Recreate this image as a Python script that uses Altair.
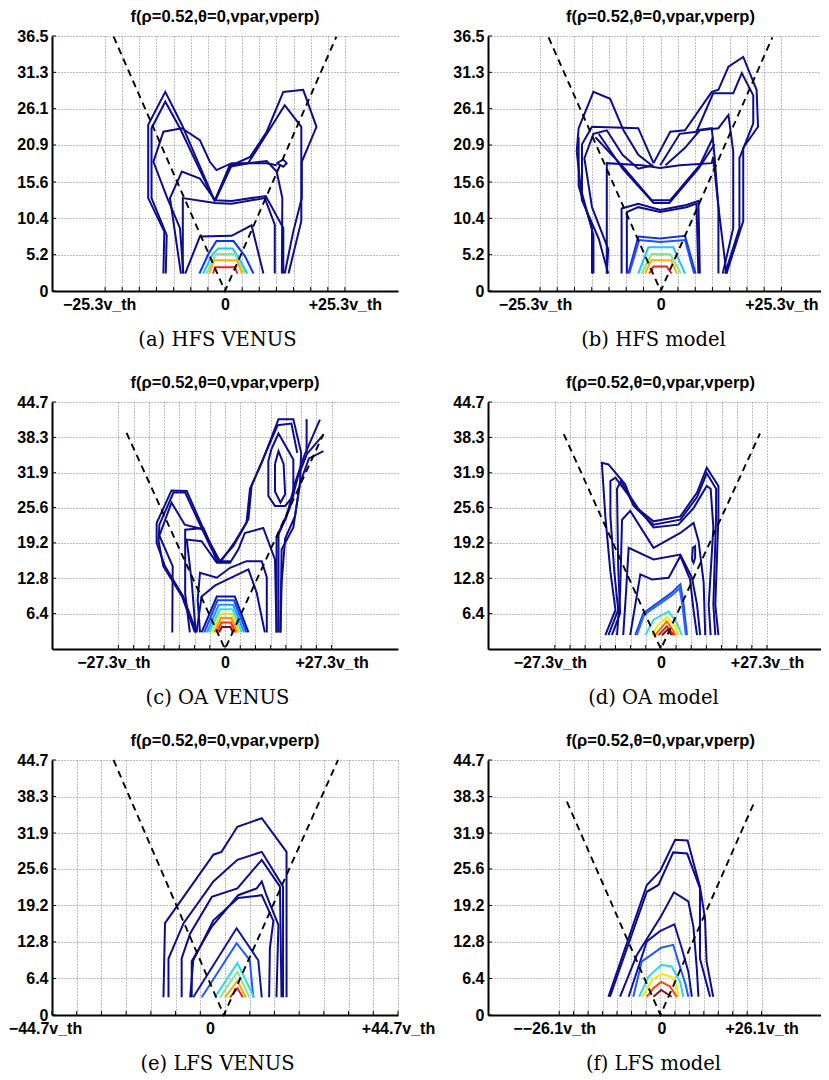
import altair as alt
import pandas as pd

TITLE = "f(ρ=0.52,θ=0,vpar,vperp)"
CAPTIONS = ["(a) HFS VENUS", "(b) HFS model", "(c) OA VENUS",
            "(d) OA model", "(e) LFS VENUS", "(f) LFS model"]
X_LABEL_VALUE = [25.3, 25.3, 27.3, 27.3, 44.7, 26.1]
X_NEG_LABEL = ["−25.3v_th", "−25.3v_th", "−27.3v_th", "−27.3v_th", "−44.7v_th", "−−26.1v_th"]
X_POS_LABEL = ["+25.3v_th", "+25.3v_th", "+27.3v_th", "+27.3v_th", "+44.7v_th", "+26.1v_th"]
X_DOMAIN = [[-36.5, 36.5], [-36.2, 33.6], [-44.3, 44.3], [-44.5, 41.2], [-44.7, 44.7], [-44.45, 41.4]]
Y_TOP = [36.5, 36.5, 44.7, 44.7, 44.7, 44.7]
Y_TICKS_HFS = [0, 5.2, 10.4, 15.6, 20.9, 26.1, 31.3, 36.5]
Y_TICKS_OA = [6.4, 12.8, 19.2, 25.6, 31.9, 38.3, 44.7]
Y_TICKS_LFS = [0, 6.4, 12.8, 19.2, 25.6, 31.9, 38.3, 44.7]

V_LEFT_TOP = [(-23.5, 36.4), (-23.5, 36.3), (-25.2, 39.1), (-25.0, 38.9), (-28.8, 44.7), (-24.1, 37.4)]
V_VERTEX = [(0, 0), (0, 0), (0, 0), (0, 0), (-0.3, 0), (0, 0)]
V_RIGHT_TOP = [(23.5, 36.4), (23.4, 36.3), (25.2, 38.9), (25.5, 39.0), (29.2, 44.7), (24.4, 37.6)]

# pixel shift of the negative label and of the "0" label on each x axis
NEG_LABEL_SHIFT = [-6, -5, -5, -5, -7, -5]
ZERO_LABEL_SHIFT = [0, 0, 0, 0, -15, 1]

NAVY = "#0c0c8e"

A_CONTOURS = [
    (NAVY, [(-13.0, 2.5), (-12.8, 8.5), (-16.2, 13.3), (-16.2, 23.8), (-12.6, 28.5), (-9.1, 23.8), (-2.1, 12.8)]),
    (NAVY, [(-12.5, 2.5), (-12.3, 8.0), (-15.5, 13.3), (-15.5, 23.3), (-12.6, 27.1), (-9.5, 23.3), (-2.3, 13.0)]),
    (NAVY, [(-8.8, 2.5), (-9.5, 9.0), (-12.3, 13.5), (-15.1, 18.5), (-13.0, 22.8), (-9.1, 23.3), (-5.3, 21.6),
            (-3.2, 18.5), (-1.8, 17.3), (1.4, 18.3), (8.8, 18.3), (10.9, 18.0)]),
    (NAVY, [(-8.9, 2.5), (-8.9, 13.3), (-2.1, 12.6), (1.4, 12.5), (8.4, 13.3), (10.5, 9.5), (10.5, 2.5)]),
    (NAVY, [(-9.3, 2.5), (-11.6, 13.3), (-9.1, 17.1), (-5.3, 16.1), (-2.1, 13.0), (1.4, 12.9), (8.6, 13.6),
            (12.3, 9.0), (12.3, 2.5)]),
    (NAVY, [(-8.4, 2.5), (-5.3, 7.8), (1.4, 7.9), (5.6, 9.4), (8.1, 2.5)]),
    (NAVY, [(12.6, 2.5), (14.4, 8.5), (16.2, 13.3), (16.2, 18.5), (19.3, 23.5), (16.5, 28.8), (12.3, 28.5),
            (8.8, 22.8), (5.3, 19.2), (1.4, 18.0), (-2.0, 13.0)]),
    (NAVY, [(13.4, 2.5), (16.1, 10.0), (16.1, 23.5), (12.6, 26.6), (9.1, 22.8), (4.9, 18.3), (1.0, 18.0),
            (-2.1, 13.0)]),
    (NAVY, [(-2.1, 13.0), (1.0, 17.8), (4.9, 18.3), (8.8, 18.6), (10.9, 17.1), (12.1, 13.3), (12.0, 2.5)]),
    (NAVY, [(10.9, 18.3), (12.3, 18.8), (13.0, 18.3), (12.3, 17.8), (10.9, 18.3)]),
    ("#0a32ff", [(-5.4, 2.5), (-3.5, 5.3), (-1.8, 7.15), (1.8, 7.15), (4.2, 5.0), (6.0, 2.5)]),
    ("#19c8f5", [(-4.6, 2.5), (-2.6, 5.3), (-1.4, 6.1), (1.6, 6.1), (3.0, 4.6), (4.7, 2.5)]),
    ("#8ae68a", [(-3.9, 2.5), (-1.9, 5.3), (2.1, 5.3), (4.2, 2.5)]),
    ("#ffb000", [(-3.3, 2.5), (-2.3, 4.4), (2.5, 4.4), (3.6, 2.5)]),
    ("#ee2020", [(-2.5, 2.5), (-2.1, 3.4), (2.1, 3.4), (2.6, 2.5)]),
]

B_CONTOURS = [
    (NAVY, [(-11.0, 2.5), (-13.0, 7.5), (-16.5, 13.0), (-17.6, 20.0), (-17.2, 23.3), (-14.1, 28.5), (-10.6, 27.5),
            (-7.8, 23.0), (-4.7, 19.5), (-1.9, 18.0)]),
    (NAVY, [(-14.1, 2.5), (-14.1, 8.0), (-16.5, 14.0), (-16.5, 21.0), (-14.4, 23.5), (-4.7, 23.3), (-1.5, 18.3)]),
    (NAVY, [(-11.3, 2.5), (-11.0, 6.0), (-14.4, 12.0), (-16.0, 19.0), (-14.1, 22.5), (-11.3, 23.0), (-8.0, 19.5),
            (-4.7, 17.5), (-1.5, 18.0)]),
    (NAVY, [(-14.4, 2.5), (-14.4, 9.0), (-17.2, 15.0), (-17.2, 22.0)]),
    (NAVY, [(-11.3, 2.5), (-11.3, 18.3), (-4.0, 18.0), (-0.1, 17.6), (4.0, 18.0), (10.7, 18.3), (11.0, 19.2),
            (12.1, 12.0), (13.8, 2.5)]),
    (NAVY, [(-8.2, 2.5), (-8.2, 11.8), (-4.7, 12.5), (-0.1, 11.6), (5.4, 12.3), (7.9, 12.9), (8.2, 2.5)]),
    (NAVY, [(-7.1, 2.5), (-7.1, 11.3), (-4.7, 12.0), (-0.1, 11.3), (5.4, 12.0), (7.5, 12.5), (7.9, 2.5)]),
    (NAVY, [(-13.7, 22.0), (-8.2, 18.0), (-1.9, 13.0), (2.0, 13.0), (8.2, 18.0), (11.0, 22.0)]),
    (NAVY, [(-13.0, 22.5), (-8.0, 17.5), (-1.5, 12.6), (1.8, 12.6), (8.0, 17.6), (11.3, 21.0)]),
    (NAVY, [(13.8, 2.5), (17.3, 10.0), (17.3, 20.5), (20.4, 23.5), (20.1, 28.8), (17.3, 33.5), (14.2, 32.1),
            (12.1, 28.8), (10.7, 28.5), (5.1, 23.0), (2.0, 22.8), (-1.5, 18.3)]),
    (NAVY, [(13.5, 2.5), (16.5, 9.0), (16.5, 19.0), (19.4, 24.0), (19.4, 28.0), (17.0, 31.2), (15.2, 28.3),
            (11.0, 28.3), (7.5, 22.8), (4.0, 22.5), (-0.1, 18.0)]),
    (NAVY, [(13.0, 2.5), (15.2, 9.0), (15.2, 20.0), (14.2, 25.2), (12.1, 23.3), (8.2, 23.0), (5.1, 20.5),
            (1.0, 18.0)]),
    (NAVY, [(12.1, 2.5), (12.1, 12.0), (11.3, 19.2), (10.7, 23.3), (7.5, 23.0)]),
    ("#1a2ee6", [(-6.8, 2.5), (-4.7, 7.8), (-0.1, 7.5), (5.1, 7.9), (7.3, 2.5)]),
    ("#1f50ff", [(-6.6, 2.5), (-4.5, 7.3), (-0.1, 7.0), (5.1, 7.3), (7.0, 2.5)]),
    ("#19c8f5", [(-4.7, 2.5), (-2.6, 6.25), (2.65, 6.25), (5.1, 2.5)]),
    ("#8ae68a", [(-4.0, 2.5), (-1.9, 5.3), (2.0, 5.3), (4.2, 2.5)]),
    ("#ffb000", [(-3.3, 2.5), (-2.0, 4.4), (2.2, 4.4), (3.4, 2.5)]),
    ("#ee2020", [(-2.4, 2.5), (-1.5, 3.5), (1.25, 3.5), (2.3, 2.5)]),
]

C_CONTOURS = [
    (NAVY, [(-7.3, 3.0), (-10.7, 9.5), (-15.4, 15.0), (-17.5, 19.2), (-17.5, 22.8), (-13.7, 28.7), (-9.8, 28.6),
            (-6.0, 22.5), (-3.8, 19.2), (-1.3, 15.9)]),
    (NAVY, [(-7.7, 3.0), (-11.0, 9.5), (-15.8, 15.0), (-17.0, 19.5), (-16.8, 22.5), (-13.2, 28.3), (-10.2, 28.3),
            (-6.4, 22.5), (-3.8, 18.6), (-1.3, 15.6)]),
    (NAVY, [(-13.5, 3.0), (-13.4, 15.0), (-16.8, 20.5), (-13.7, 26.5), (-10.3, 22.5), (-6.5, 21.8), (-5.5, 21.5)]),
    (NAVY, [(-9.0, 3.0), (-10.2, 10.0), (-10.2, 21.6), (-5.5, 21.9), (-2.1, 15.9), (1.3, 15.9)]),
    (NAVY, [(-7.5, 3.0), (-8.5, 12.0), (-9.8, 19.8), (-6.0, 19.5), (-2.1, 15.6), (1.3, 15.6), (3.4, 18.0),
            (5.1, 21.0), (9.8, 21.9), (12.8, 16.2), (13.2, 3.0)]),
    (NAVY, [(-6.4, 3.0), (-7.0, 8.9), (-6.4, 13.8), (-2.1, 12.9), (1.3, 14.7), (5.5, 15.9), (9.4, 15.9),
            (10.7, 13.0), (10.7, 3.0)]),
    (NAVY, [(-7.3, 3.0), (-6.0, 9.5), (-2.5, 11.5), (6.0, 14.4), (8.1, 10.2), (10.2, 3.0)]),
    (NAVY, [(-1.3, 15.9), (2.1, 18.6), (5.5, 22.8), (6.4, 29.0), (9.4, 33.7), (13.7, 41.6), (17.5, 41.6),
            (19.5, 35.5), (19.2, 30.0), (17.9, 24.0), (15.4, 20.0), (14.5, 12.0), (14.2, 3.0)]),
    (NAVY, [(-1.0, 15.9), (2.6, 19.5), (6.0, 23.5), (6.8, 29.5), (9.8, 34.5), (13.5, 40.5), (17.0, 40.8),
            (18.5, 35.5)]),
    (NAVY, [(13.2, 3.0), (13.2, 20.0), (15.8, 24.0), (17.9, 30.0), (20.3, 35.0), (24.3, 41.5)]),
    (NAVY, [(13.7, 3.0), (13.7, 21.0), (16.6, 25.5), (18.6, 31.0), (21.0, 35.3), (25.2, 38.8)]),
    (NAVY, [(14.2, 3.0), (14.5, 18.0), (17.5, 22.0), (19.2, 30.0), (21.5, 34.5), (25.2, 35.8)]),
    (NAVY, [(20.9, 35.5), (20.9, 41.6)]),
    (NAVY, [(11.9, 36.2), (13.7, 39.0), (17.5, 34.3), (17.5, 27.7), (15.4, 25.9), (12.8, 25.9), (11.1, 27.7),
            (11.1, 34.0), (11.9, 36.2)]),
    (NAVY, [(12.8, 33.5), (13.7, 35.8), (15.0, 33.5), (15.4, 28.0), (14.2, 26.5), (12.8, 28.5), (12.8, 33.5)]),
    ("#0a0ab4", [(-6.0, 3.0), (-2.1, 9.5), (2.5, 9.5), (6.0, 3.0)]),
    ("#0a46ff", [(-5.3, 3.0), (-1.9, 8.8), (2.3, 8.8), (5.5, 3.0)]),
    ("#1e96ff", [(-4.6, 3.0), (-1.6, 8.0), (2.1, 8.0), (4.9, 3.0)]),
    ("#30e0e0", [(-4.0, 3.0), (-1.3, 7.2), (1.9, 7.2), (4.3, 3.0)]),
    ("#f0e010", [(-3.3, 3.0), (-1.1, 6.4), (1.7, 6.4), (3.7, 3.0)]),
    ("#ff9000", [(-2.7, 3.0), (-1.0, 5.6), (1.6, 5.6), (3.1, 3.0)]),
    ("#ff3010", [(-2.1, 3.0), (-0.9, 4.8), (1.5, 4.8), (2.6, 3.0)]),
    ("#8b0a0a", [(-1.5, 3.0), (-0.8, 4.0), (1.4, 4.0), (2.0, 3.0)]),
]

D_CONTOURS = [
    (NAVY, [(-14.3, 2.5), (-11.7, 7.1), (-13.0, 14.0), (-14.3, 24.0), (-15.2, 33.7), (-13.5, 33.4), (-9.2, 29.8),
            (-7.1, 26.0), (-1.9, 23.1), (2.8, 23.7), (5.0, 24.0), (9.3, 28.3), (11.8, 32.8), (14.8, 29.5),
            (14.8, 24.0), (14.0, 8.0), (14.8, 2.5)]),
    (NAVY, [(-13.5, 2.5), (-11.0, 7.1), (-12.0, 14.0), (-13.0, 24.0), (-13.0, 30.4), (-11.7, 31.0), (-8.5, 28.0),
            (-6.6, 25.6), (-1.9, 22.5), (5.0, 23.4), (9.3, 27.5), (11.8, 31.8), (14.2, 29.0), (14.2, 24.0),
            (13.5, 8.0), (14.0, 2.5)]),
    (NAVY, [(-12.6, 2.5), (-10.5, 6.5), (-11.0, 15.0), (-11.3, 29.0), (-10.3, 30.4), (-8.0, 27.7), (-6.0, 25.6),
            (-1.9, 22.0), (4.5, 22.5), (8.4, 25.5), (11.8, 29.5), (12.8, 29.0), (13.5, 22.0), (12.3, 8.0),
            (12.8, 2.5)]),
    (NAVY, [(-11.3, 2.5), (-10.5, 10.0), (-10.0, 23.4), (-7.9, 25.0), (-1.9, 18.3), (5.0, 21.0), (8.4, 22.8),
            (9.7, 19.5), (11.0, 12.0), (11.4, 2.5)]),
    (NAVY, [(-9.7, 2.5), (-9.0, 10.0), (-8.3, 18.3), (-1.9, 16.2), (5.0, 17.1), (8.0, 12.9), (9.3, 8.0),
            (10.1, 2.5)]),
    (NAVY, [(-7.9, 2.5), (-6.6, 8.0), (-5.3, 13.5), (-2.3, 12.6), (2.0, 12.9), (5.0, 16.8), (7.5, 12.6),
            (8.4, 7.0), (9.3, 2.5)]),
    (NAVY, [(8.0, 16.2), (8.2, 18.3), (8.8, 18.6), (8.8, 16.5), (8.4, 15.6), (8.0, 16.2)]),
    ("#1a46f0", [(-6.6, 2.5), (-4.5, 6.5), (2.8, 10.2), (5.0, 11.7), (5.8, 8.3), (6.7, 2.5)]),
    ("#2a6af5", [(-6.2, 2.5), (-4.3, 6.2), (2.8, 9.7), (4.8, 11.0), (5.5, 8.0), (6.4, 2.5)]),
    ("#30e0e0", [(-4.0, 2.5), (-1.9, 5.3), (2.0, 6.8), (4.1, 4.7), (5.4, 2.5)]),
    ("#eeee00", [(-2.3, 2.5), (-1.0, 4.1), (1.5, 5.8), (3.7, 4.1), (4.5, 2.5)]),
    ("#ff6a00", [(-1.5, 2.5), (1.5, 5.0), (3.3, 3.2), (3.6, 2.5)]),
    ("#e02010", [(-0.6, 2.5), (1.5, 4.1), (3.3, 2.5)]),
    ("#8b0a0a", [(0.3, 2.5), (1.7, 3.5), (2.8, 2.5)]),
]

E_CONTOURS = [
    (NAVY, [(-15.9, 3.1), (-15.5, 16.1), (-3.0, 28.1), (-0.9, 28.6), (3.2, 33.0), (9.5, 34.5), (15.9, 28.6),
            (15.9, 3.1)]),
    (NAVY, [(-14.6, 3.1), (-14.6, 9.9), (-10.7, 16.1), (-3.0, 23.4), (3.2, 27.2), (9.5, 28.6), (15.0, 22.5),
            (15.0, 3.1)]),
    (NAVY, [(-11.2, 3.1), (-11.2, 9.9), (-9.0, 14.3), (-3.4, 20.7), (3.2, 22.2), (9.5, 27.2), (14.2, 22.5),
            (14.6, 3.1)]),
    (NAVY, [(-8.6, 3.1), (-8.6, 9.4), (-3.4, 15.5), (3.4, 21.0), (8.2, 22.2), (9.5, 23.4), (10.7, 21.0),
            (13.8, 15.8), (13.3, 3.1)]),
    (NAVY, [(-9.0, 3.1), (-8.2, 9.6), (-3.0, 16.6), (3.4, 20.5), (9.5, 21.0), (12.5, 16.5), (11.6, 11.7),
            (11.4, 3.1)]),
    ("#14149c", [(-8.2, 3.1), (3.0, 15.2), (8.6, 9.6), (9.5, 3.1)]),
    ("#1e5aff", [(-6.0, 3.1), (3.0, 12.6), (6.4, 9.6), (7.3, 3.1)]),
    ("#2ad8f0", [(-2.6, 3.1), (3.2, 9.1), (7.5, 3.1)]),
    ("#88e888", [(-1.3, 3.1), (3.2, 7.6), (6.3, 3.1)]),
    ("#ffaa00", [(0.0, 3.1), (3.2, 6.0), (5.4, 3.1)]),
    ("#ee2020", [(1.3, 3.1), (3.2, 4.7), (4.6, 3.1)]),
]

F_CONTOURS = [
    (NAVY, [(-13.4, 3.2), (-3.5, 22.8), (-0.1, 25.2), (3.8, 30.7), (7.0, 30.6), (10.2, 22.5), (11.5, 16.9),
            (11.9, 9.4), (13.6, 3.2)]),
    (NAVY, [(-13.0, 3.2), (-3.5, 21.6), (-0.5, 22.8), (3.3, 28.5), (6.9, 28.3), (10.2, 22.2), (10.2, 9.9),
            (12.8, 3.2)]),
    (NAVY, [(-10.4, 3.2), (-6.1, 10.5), (0.3, 17.5), (3.5, 21.5), (7.2, 19.9), (8.5, 15.5), (9.4, 8.0),
            (9.8, 3.2)]),
    ("#1010a8", [(-8.2, 3.2), (-3.5, 12.9), (-0.1, 14.7), (3.6, 15.9), (5.5, 11.7), (7.2, 7.6), (8.1, 3.2)]),
    ("#1e5aff", [(-7.0, 3.2), (-4.8, 9.4), (-3.1, 10.2), (0.2, 11.8), (3.3, 12.3), (4.6, 9.4), (6.5, 5.3),
                 (7.2, 3.2)]),
    ("#2ad8e8", [(-5.5, 3.2), (-3.1, 6.7), (0.2, 8.8), (2.9, 8.5), (5.1, 5.8), (5.9, 3.2)]),
    ("#eeee00", [(-4.6, 3.2), (-2.2, 6.1), (0.2, 7.2), (2.9, 6.7), (4.2, 5.3), (4.6, 3.2)]),
    ("#ff4400", [(-3.5, 3.2), (-1.8, 4.7), (0.2, 5.8), (2.5, 5.0), (4.2, 3.2)]),
    ("#8b1010", [(-1.8, 3.2), (0.2, 4.4), (2.9, 3.2)]),
]

ALL_CONTOURS = [A_CONTOURS, B_CONTOURS, C_CONTOURS, D_CONTOURS, E_CONTOURS, F_CONTOURS]
ALL_YTICKS = [Y_TICKS_HFS, Y_TICKS_HFS, Y_TICKS_OA, Y_TICKS_OA, Y_TICKS_LFS, Y_TICKS_LFS]

WIDTHS = [346, 333, 346, 333, 346, 333]
HEIGHTS = [255, 255, 247, 247, 255, 255]
TITLE_DX = [0, 6, 0, 6, 0, 6]

GRID_COLOR = "#808080"


def make_panel(i):
    rows = []
    for cid, (color, pts) in enumerate(ALL_CONTOURS[i]):
        for k, (x, y) in enumerate(pts):
            rows.append({"cid": cid, "ord": k, "x": x, "y": y, "color": color})
    df = pd.DataFrame(rows)
    L = X_LABEL_VALUE[i]
    xticks = [k * L / 7 for k in range(-7, 8)]
    yticks = ALL_YTICKS[i]
    w, h = WIDTHS[i], HEIGHTS[i]
    xscale = alt.Scale(domain=X_DOMAIN[i], nice=False, zero=False)
    yscale = alt.Scale(domain=[0, Y_TOP[i]], nice=False, zero=False)
    label_expr = (
        f"abs(datum.value) < 0.001 ? '0' : (datum.value > {L - 0.01} ? '{X_POS_LABEL[i]}' : "
        f"(datum.value < {-(L - 0.01)} ? '{X_NEG_LABEL[i]}' : ''))"
    )
    loff = {
        "condition": [
            {"test": "datum.value < -1", "value": NEG_LABEL_SHIFT[i]},
            {"test": "abs(datum.value) < 0.001", "value": ZERO_LABEL_SHIFT[i]},
        ],
        "value": 0,
    }
    xaxis = alt.Axis(
        values=xticks, grid=True, gridDash=[1, 2], gridColor=GRID_COLOR, gridWidth=1,
        ticks=False, domainColor="black", domainWidth=2,
        labelExpr=label_expr, labelFont="Liberation Sans", labelFontWeight="bold",
        labelFontSize=16, labelColor="black", labelPadding=5, labelFlush=False,
        labelOverlap=False, labelOffset=loff,
        title=CAPTIONS[i], titleFont="DejaVu Serif", titleFontWeight="normal",
        titleFontSize=19.5, titleColor="black", titleX=165, titleY=48,
        titleAlign="center", titleBaseline="middle",
    )
    yaxis = alt.Axis(
        values=yticks, grid=True, gridDash=[1, 2], gridColor=GRID_COLOR, gridWidth=1,
        ticks=False, domainColor="black", domainWidth=2,
        labelExpr="datum.value == 0 ? '0' : format(datum.value, '.1f')",
        labelFont="Liberation Sans", labelFontWeight="bold", labelFontSize=16,
        labelColor="black", labelPadding=4, labelFlush=False, labelOverlap=False,
        title=None,
    )
    lines = alt.Chart(df).mark_line(strokeWidth=2, clip=True).encode(
        x=alt.X("x:Q", scale=xscale, axis=xaxis),
        y=alt.Y("y:Q", scale=yscale, axis=yaxis),
        detail="cid:N",
        order="ord:Q",
        color=alt.Color("color:N", scale=None),
    )
    vdf = pd.DataFrame({
        "x": [V_LEFT_TOP[i][0], V_VERTEX[i][0], V_RIGHT_TOP[i][0]],
        "y": [V_LEFT_TOP[i][1], V_VERTEX[i][1], V_RIGHT_TOP[i][1]],
        "ord": [0, 1, 2],
    })
    vline = alt.Chart(vdf).mark_line(color="black", strokeDash=[7, 5], strokeWidth=1.9).encode(
        x=alt.X("x:Q", scale=xscale, axis=xaxis),
        y=alt.Y("y:Q", scale=yscale, axis=yaxis),
        order="ord:Q",
    )
    xt = alt.Chart(pd.DataFrame({"x": xticks})).mark_rule(color="black", strokeWidth=1).encode(
        x=alt.X("x:Q", scale=xscale, axis=xaxis),
        y=alt.value(h), y2=alt.value(h - 4),
    )
    yt = alt.Chart(pd.DataFrame({"y": yticks})).mark_rule(color="black", strokeWidth=1).encode(
        y=alt.Y("y:Q", scale=yscale, axis=yaxis),
        x=alt.value(0), x2=alt.value(4),
    )
    return alt.layer(lines, vline, xt, yt).properties(
        width=w, height=h,
        title=alt.TitleParams(TITLE, font="Liberation Sans", fontSize=16.5, fontWeight="bold",
                              color="black", anchor="middle", frame="group", offset=3,
                              dx=TITLE_DX[i]),
    )


panels = [make_panel(i) for i in range(6)]
chart = alt.concat(
    *panels, columns=2, spacing={"row": 111, "column": 90}, bounds="flush", align="each"
).properties(
    padding={"left": 0, "top": 0, "right": 0, "bottom": 4}
).configure_view(strokeWidth=0)

chart.save("out.html", embed_options={"renderer": "svg", "actions": False})
